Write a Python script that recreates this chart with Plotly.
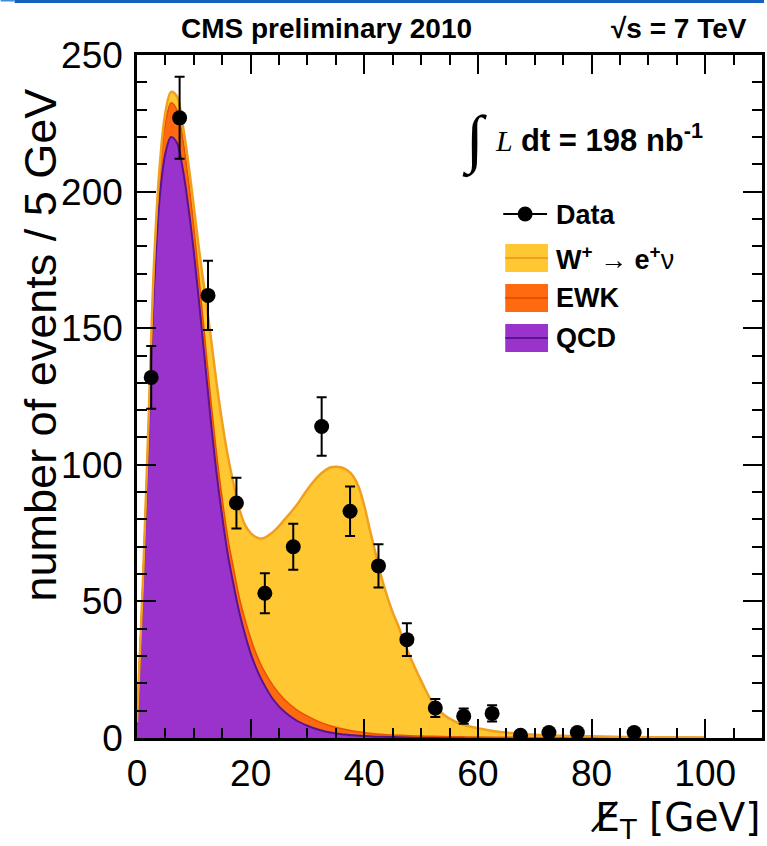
import plotly.graph_objects as go
import numpy as np

# ---- data points (bin centres, 5 GeV bins) ----
data_x = [2.5, 7.5, 12.5, 17.5, 22.5, 27.5, 32.5, 37.5, 42.5, 47.5, 52.5, 57.5, 62.5, 67.5, 72.5, 77.5, 87.5]
data_y = [132, 227, 162, 86, 53, 70, 114, 83, 63, 36, 11, 8, 9, 1, 2, 2, 2]
data_err = [11.5, 15.0, 12.7, 9.3, 7.3, 8.4, 10.7, 9.1, 7.9, 6.0, 3.3, 2.8, 3.0, 1.0, 1.4, 1.4, 1.4]

# ---- smooth model templates (component values) ----
curve_x = [0, 1, 2, 3, 4, 5, 6, 7, 8, 9, 10, 11, 12, 13, 14, 15, 16, 17, 18, 19, 20, 21, 22, 24, 26, 28,
           30, 32, 34, 35, 36, 37, 38, 39, 40, 41, 42, 43, 44, 45, 46, 47, 48, 50, 52, 54, 56, 58, 60,
           65, 70, 80, 90, 100]
qcd = [5, 52, 108, 165, 198, 214, 220, 218, 209, 195, 178, 158, 137, 116, 97, 81, 67, 56, 46, 38, 31,
       25.5, 21, 14, 9.5, 6.5, 4.5, 3, 2, 1.7, 1.4, 1.2, 1.0, 0.85, 0.7, 0.6, 0.5, 0.45, 0.4, 0.35, 0.3,
       0.28, 0.25, 0.2, 0.15, 0.12, 0.1, 0.1, 0.1, 0.08, 0.06, 0.05, 0.05, 0.05]
ewk = [0.3, 2, 4.5, 7, 9, 11, 12.5, 12, 11, 10, 9, 8.5, 8, 7.5, 7, 6.5, 6, 6, 5.5, 5.5, 5.5, 5.2, 5, 5,
       4.5, 4, 3.5, 3, 2.5, 2.2, 2, 1.8, 1.6, 1.45, 1.3, 1.15, 1, 0.9, 0.8, 0.75, 0.7, 0.65, 0.6, 0.5,
       0.45, 0.4, 0.35, 0.3, 0.25, 0.2, 0.15, 0.1, 0.08, 0.05]
wenu = [0.5, 1, 1.5, 2, 2.5, 4, 4, 5, 5, 6, 7.5, 11, 17, 23, 26, 28, 30, 31, 32.5, 34.5, 38.5, 42.8, 47,
        56.5, 66, 74.5, 83, 90, 94.5, 95.4, 95.6, 95, 93.4, 89.7, 83, 74.3, 66, 57.7, 50.8, 44.9, 40,
        34.1, 29.2, 20.3, 12.4, 8, 5.55, 4.1, 3.25, 1.7, 1.0, 0.45, 0.17, 0.1]

stack_qcd = np.array(qcd)
stack_ewk = stack_qcd + np.array(ewk)
stack_w = stack_ewk + np.array(wenu)

C_W_FILL, C_W_LINE = "#FFC833", "#F0A01E"
C_E_FILL, C_E_LINE = "#FF6A10", "#E85000"
C_Q_FILL, C_Q_LINE = "#9933CC", "#5A1490"

fig = go.Figure()
fig.add_trace(go.Scatter(x=curve_x, y=stack_qcd, mode="lines", fill="tozeroy",
                         fillcolor=C_Q_FILL, line=dict(color=C_Q_LINE, width=2, shape="spline"),
                         name="QCD", hoverinfo="skip"))
fig.add_trace(go.Scatter(x=curve_x, y=stack_ewk, mode="lines", fill="tonexty",
                         fillcolor=C_E_FILL, line=dict(color=C_E_LINE, width=1.5, shape="spline"),
                         name="EWK", hoverinfo="skip"))
fig.add_trace(go.Scatter(x=curve_x, y=stack_w, mode="lines", fill="tonexty",
                         fillcolor=C_W_FILL, line=dict(color=C_W_LINE, width=2.5, shape="spline"),
                         name="W", hoverinfo="skip"))
fig.add_trace(go.Scatter(x=data_x, y=data_y, mode="markers",
                         marker=dict(color="black", size=15),
                         error_y=dict(type="data", array=data_err, color="black", thickness=2, width=5),
                         name="Data"))

# ---- plot geometry in pixels ----
W, H = 767, 846
L, R, T, B = 137, 765, 55, 738


def px(xp):
    return (xp - L) / (R - L)


def py(yp):
    return (B - yp) / (B - T)


shapes = []
annotations = []

# top blue bar (slide frame)
shapes.append(dict(type="rect", xref="paper", yref="paper", x0=px(14), x1=px(767), y0=py(3), y1=py(0),
                   fillcolor="#1560BD", line=dict(width=0), layer="above"))
shapes.append(dict(type="rect", xref="paper", yref="paper", x0=px(0), x1=px(14), y0=py(1.5), y1=py(0),
                   fillcolor="#3C8CE0", line=dict(width=0), layer="above"))

# legend: Data
shapes.append(dict(type="line", xref="paper", yref="paper", x0=px(505), x1=px(549), y0=py(214), y1=py(214),
                   line=dict(color="black", width=2)))
shapes.append(dict(type="circle", xref="paper", yref="paper", x0=px(519.5), x1=px(534.5),
                   y0=py(221.5), y1=py(206.5), fillcolor="black", line=dict(color="black", width=0)))
annotations.append(dict(text="<b>Data</b>", xref="paper", yref="paper", x=px(556), y=py(215),
                        xanchor="left", yanchor="middle", showarrow=False,
                        font=dict(family="Liberation Sans", size=27, color="black")))

leg = [("<b>W<sup>+</sup></b> → <b>e<sup>+</sup></b>ν", C_W_FILL, C_W_LINE, 258),
       ("<b>EWK</b>", C_E_FILL, C_E_LINE, 298),
       ("<b>QCD</b>", C_Q_FILL, C_Q_LINE, 338)]
for txt, fc, lc, yc in leg:
    shapes.append(dict(type="rect", xref="paper", yref="paper", x0=px(507), x1=px(550),
                       y0=py(yc + 14), y1=py(yc - 14), fillcolor=fc, line=dict(width=0)))
    shapes.append(dict(type="line", xref="paper", yref="paper", x0=px(507), x1=px(550),
                       y0=py(yc), y1=py(yc), line=dict(color=lc, width=2)))
    annotations.append(dict(text=txt, xref="paper", yref="paper", x=px(556), y=py(yc),
                            xanchor="left", yanchor="middle", showarrow=False,
                            font=dict(family="Liberation Sans", size=27, color="black")))

# luminosity label
annotations.append(dict(text="∫", xref="paper", yref="paper", x=px(476), y=py(140),
                        xanchor="center", yanchor="middle", showarrow=False,
                        font=dict(family="Liberation Serif", size=64, color="black")))
annotations.append(dict(text="<i>L</i>", xref="paper", yref="paper", x=px(495), y=py(140),
                        xanchor="left", yanchor="middle", showarrow=False,
                        font=dict(family="Liberation Serif", size=30, color="black")))
annotations.append(dict(text="<b>dt = 198 nb<sup>-1</sup></b>", xref="paper", yref="paper", x=px(521), y=py(138),
                        xanchor="left", yanchor="middle", showarrow=False,
                        font=dict(family="Liberation Sans", size=31, color="black")))

# header
annotations.append(dict(text="<b>CMS preliminary 2010</b>", xref="paper", yref="paper", x=px(179), y=py(28),
                        xanchor="left", yanchor="middle", showarrow=False,
                        font=dict(family="Liberation Sans", size=28, color="black")))
annotations.append(dict(text="<b>√s = 7 TeV</b>", xref="paper", yref="paper", x=px(752), y=py(28),
                        xanchor="right", yanchor="middle", showarrow=False,
                        font=dict(family="Liberation Sans", size=28, color="black")))

# axis titles
annotations.append(dict(text="number of events / 5 GeV", xref="paper", yref="paper", x=px(41), y=py(345),
                        xanchor="center", yanchor="middle", textangle=-90, showarrow=False,
                        font=dict(family="Liberation Sans", size=45, color="black")))
annotations.append(dict(text="E\u0338<sub>T</sub> [GeV]", xref="paper", yref="paper", x=px(765), y=py(820),
                        xanchor="right", yanchor="middle", showarrow=False,
                        font=dict(family="DejaVu Sans", size=39, color="black")))

axis_common = dict(showline=True, linecolor="black", linewidth=2.5, mirror="ticks",
                   ticks="inside", ticklen=19, tickwidth=2, tickcolor="black",
                   showgrid=False, zeroline=False,
                   tickfont=dict(family="Liberation Sans", size=37, color="black"))

fig.update_layout(
    width=W, height=H,
    margin=dict(l=L, r=W - R, t=T, b=H - B),
    paper_bgcolor="white", plot_bgcolor="white",
    showlegend=False,
    xaxis=dict(range=[0, 110], dtick=20, tick0=0,
               minor=dict(dtick=5, ticklen=10, tickwidth=2, ticks="inside", tickcolor="black"),
               ticklabelstandoff=1, **axis_common),
    yaxis=dict(range=[0, 250], dtick=50, tick0=0,
               minor=dict(dtick=10, ticklen=10, tickwidth=2, ticks="inside", tickcolor="black"),
               ticklabelstandoff=4, **axis_common),
    shapes=shapes,
    annotations=annotations,
)

fig.write_html("out.html")
